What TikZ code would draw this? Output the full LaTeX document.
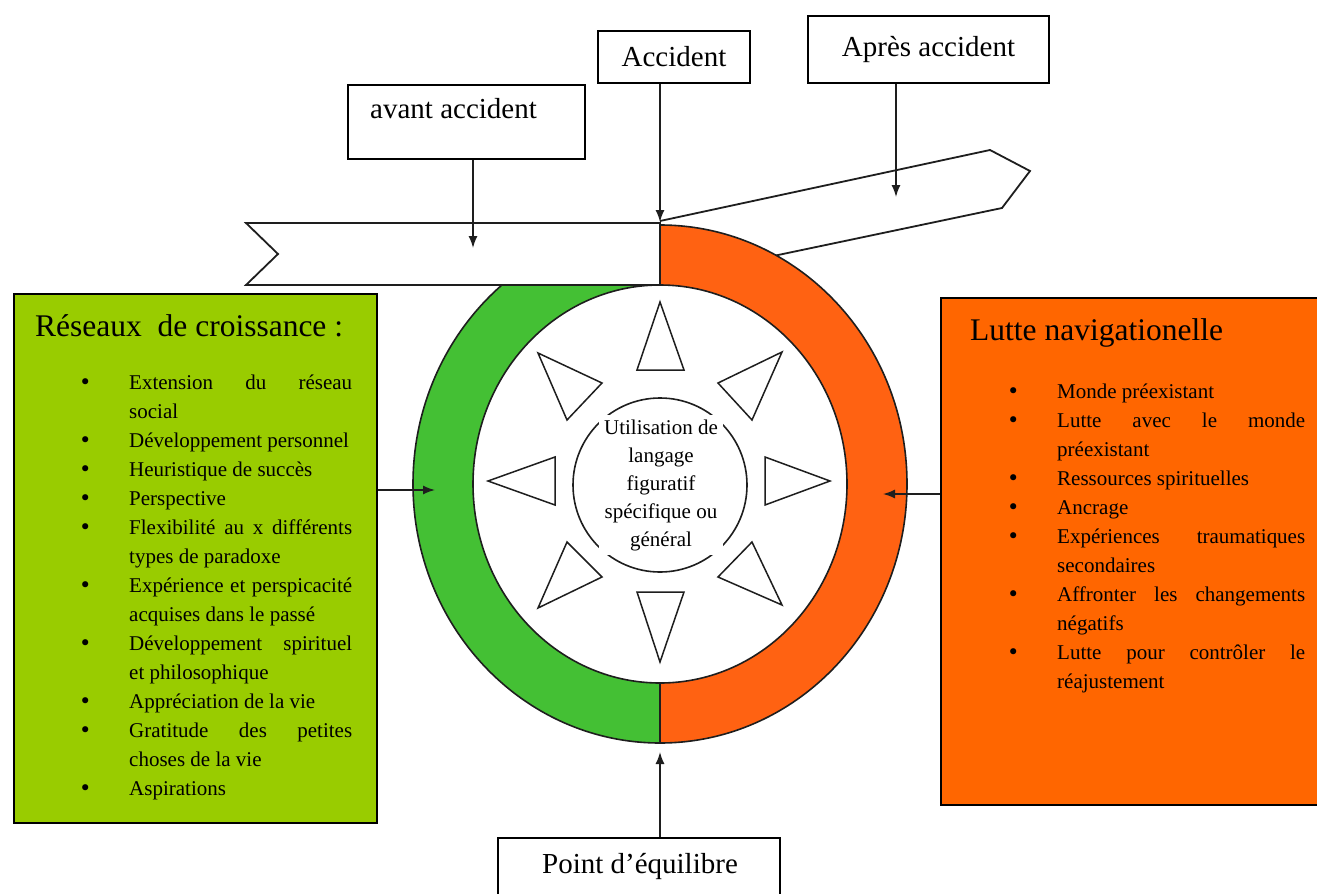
\documentclass[tikz,border=0pt]{standalone}
\usepackage{fontspec}
\setmainfont{Liberation Serif}
\newfontfamily\bulfont{DejaVu Sans}
\usetikzlibrary{arrows.meta}
\definecolor{ringgreen}{RGB}{68,192,52}
\definecolor{ringorange}{RGB}{255,98,18}
\definecolor{boxgreen}{RGB}{153,204,0}
\definecolor{boxorange}{RGB}{255,102,0}
\definecolor{inkline}{RGB}{30,30,30}
\newcommand{\bul}[1]{\makebox[47pt][l]{\hspace*{-3pt}{\bulfont •}}#1}
\newcommand{\cont}[1]{\hspace*{47pt}#1}
\newcommand{\jus}[2]{\makebox[#1][s]{#2}}
\begin{document}
\begin{tikzpicture}[x=1pt,y=-1pt,
  labelfont/.style={font=\fontsize{29}{34}\selectfont},
  labelbox/.style={draw=black, line width=1.8pt, fill=white, inner sep=0pt},
  titlefont/.style={font=\fontsize{31.5}{36}\selectfont},
  arr/.style={draw=inkline, line width=1.5pt, -{Latex[length=12pt,width=9pt]}},
  outline/.style={draw=inkline, line width=1.6pt},
  tri/.style={draw=inkline, line width=1.5pt, fill=white, line join=miter}
]
\clip (0,0) rectangle (1317,894);
\fill[white] (0,0) rectangle (1317,894);

% banner after the accident (drawn first, the ring covers its end)
\draw[outline, line width=1.8pt, line join=miter] (660,221) -- (990,150) -- (1030,171) -- (1002,208) -- (740,263);

% ring halves
\fill[ringgreen] (660,225) arc[start angle=90, end angle=270, x radius=247pt, y radius=259pt]
  -- (660,683) arc[start angle=270, end angle=90, x radius=187pt, y radius=199pt] -- cycle;
\fill[ringorange] (660,225) arc[start angle=90, end angle=-90, x radius=247pt, y radius=259pt]
  -- (660,683) arc[start angle=-90, end angle=90, x radius=187pt, y radius=199pt] -- cycle;
\draw[outline] (660,484) ellipse[x radius=247pt, y radius=259pt];
\draw[outline] (660,484) ellipse[x radius=187pt, y radius=199pt];
\draw[outline] (660,683) -- (660,743);

% banner before the accident
\filldraw[outline, line width=1.8pt, fill=white, line join=miter] (246,223) -- (660,223) -- (660,285) -- (246,285) -- (278,254) -- cycle;

% inner circle and triangles
\draw[outline] (660,485) circle[radius=87pt];
\draw[tri] (660,302) -- (637,370) -- (684,370) -- cycle;
\draw[tri] (782,352) -- (718,383) -- (752,420) -- cycle;
\draw[tri] (830,481) -- (765,457) -- (765,505) -- cycle;
\draw[tri] (782,605) -- (752,542) -- (718,577) -- cycle;
\draw[tri] (660,662) -- (637,592) -- (684,592) -- cycle;
\draw[tri] (538,608) -- (567,542) -- (602,577) -- cycle;
\draw[tri] (488,481) -- (555,457) -- (555,505) -- cycle;
\draw[tri] (538,353) -- (602,383) -- (567,420) -- cycle;

\node[fill=white, inner sep=0pt, minimum width=124pt, minimum height=140pt, align=center,
  font=\fontsize{21}{28}\selectfont] (centre) at (661,485)
  {Utilisation de\\langage\\figuratif\\spécifique ou\\général};

% top labels
\node[labelbox, minimum width=237pt, minimum height=74pt, anchor=north west] (avant) at (347,84) {};
\node[labelfont, anchor=base west, inner sep=0pt] (avantT) at (370,118) {avant accident};
\node[labelbox, labelfont, minimum width=152pt, minimum height=52pt] (acc) at (674,57) {Accident};
\node[labelbox, labelfont, minimum width=241pt, minimum height=67pt] (apres) at (928.5,49.5) {Après accident};

% bottom label
\node[labelbox, minimum width=282pt, minimum height=80pt, anchor=north] (point) at (639,837) {};
\node[labelfont, anchor=base, inner sep=0pt] (pointT) at (640,873) {Point d’équilibre};

% side boxes
\node[draw=black, line width=1.8pt, fill=boxgreen, minimum width=363pt, minimum height=529pt,
  anchor=north west, inner sep=0pt] (lbox) at (13,293) {};
\node[titlefont, anchor=base west, inner sep=0pt] (ltitle) at (35,336) {Réseaux\ \ de croissance :};
\node[anchor=base west, inner sep=0pt] (llist) at (82,389) {\begin{minipage}[t]{280pt}\fontsize{21}{29}\selectfont
\bul{\jus{223pt}{Extension du réseau}}\\
\cont{social}\\
\bul{Développement personnel}\\
\bul{Heuristique de succès}\\
\bul{Perspective}\\
\bul{\jus{223pt}{Flexibilité au x différents}}\\
\cont{types de paradoxe}\\
\bul{\jus{223pt}{Expérience et perspicacité}}\\
\cont{acquises dans le passé}\\
\bul{\jus{223pt}{Développement spirituel}}\\
\cont{et philosophique}\\
\bul{Appréciation de la vie}\\
\bul{\jus{223pt}{Gratitude des petites}}\\
\cont{choses de la vie}\\
\bul{Aspirations}
\end{minipage}};

\node[draw=black, line width=1.8pt, fill=boxorange, minimum width=382pt, minimum height=507pt,
  anchor=north west, inner sep=0pt] (rbox) at (940,297) {};
\node[titlefont, anchor=base west, inner sep=0pt] (rtitle) at (970,340) {Lutte navigationelle};
\node[anchor=base west, inner sep=0pt] (rlist) at (1010,398) {\begin{minipage}[t]{300pt}\fontsize{21}{29}\selectfont
\bul{Monde préexistant}\\
\bul{\jus{248pt}{Lutte avec le monde}}\\
\cont{préexistant}\\
\bul{Ressources spirituelles}\\
\bul{Ancrage}\\
\bul{\jus{248pt}{Expériences traumatiques}}\\
\cont{secondaires}\\
\bul{\jus{248pt}{Affronter les changements}}\\
\cont{négatifs}\\
\bul{\jus{248pt}{Lutte pour contrôler le}}\\
\cont{réajustement}
\end{minipage}};

% connectors
\coordinate (tipAvant) at (473,248);
\coordinate (tipAcc) at (660,222);
\coordinate (tipApres) at (896,197);
\coordinate (tipL) at (435,490);
\coordinate (tipR) at (883,494);
\coordinate (tipP) at (660,752);
\draw[arr] (avant.south -| tipAvant) -- (tipAvant);
\draw[arr] (acc.south -| tipAcc) -- (tipAcc);
\draw[arr] (apres.south -| tipApres) -- (tipApres);
\draw[arr] (lbox.east |- tipL) -- (tipL);
\draw[arr] (rbox.west |- tipR) -- (tipR);
\draw[arr] (point.north -| tipP) -- (tipP);
\end{tikzpicture}
\end{document}
